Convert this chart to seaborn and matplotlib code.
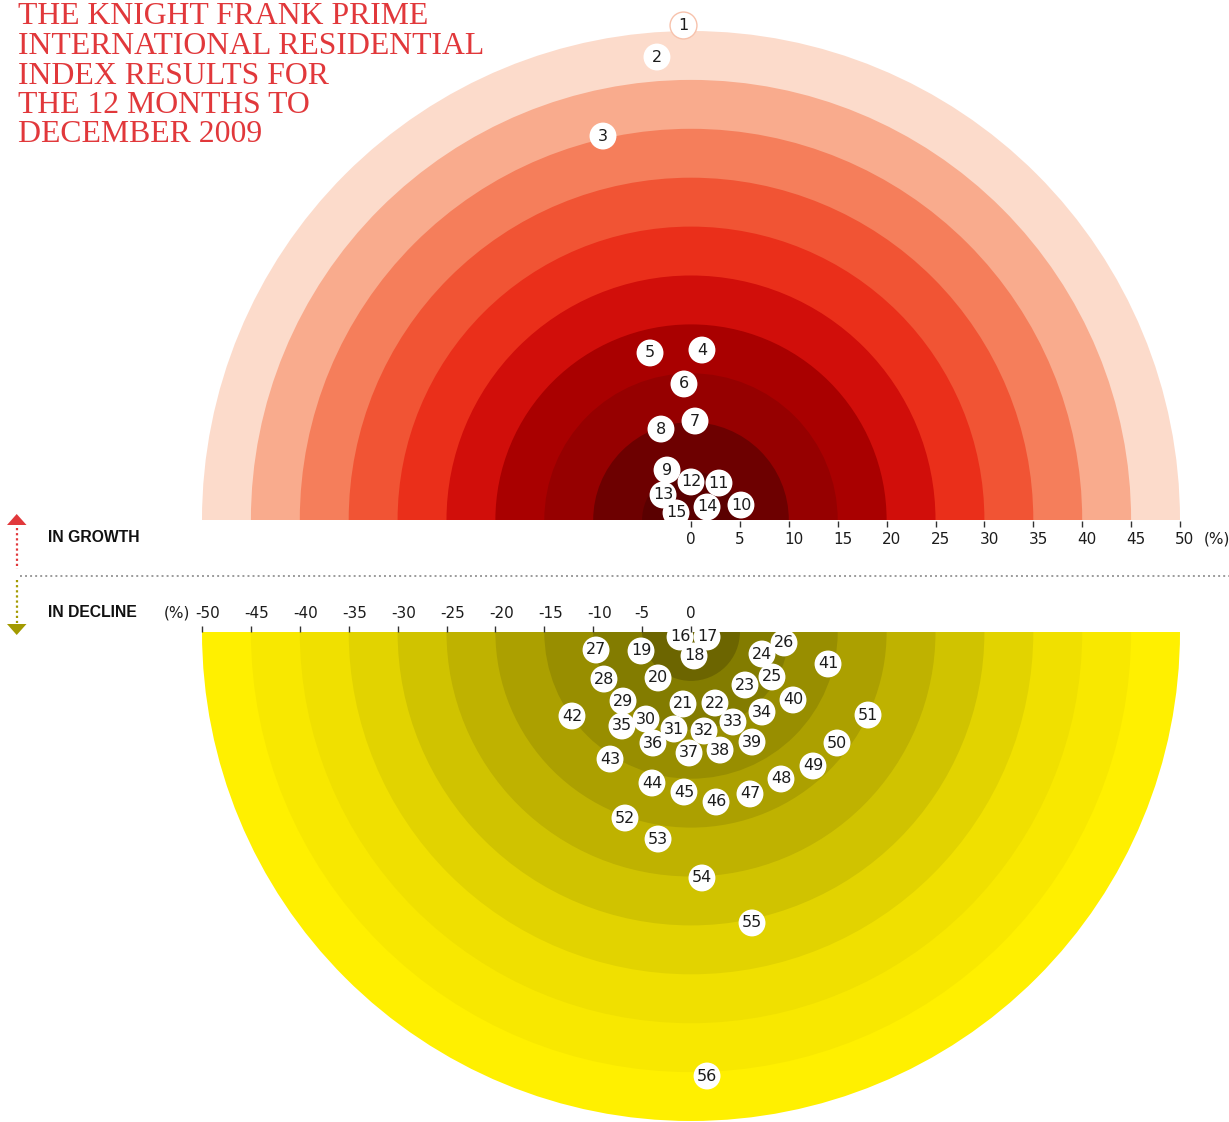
import numpy as np
import pandas as pd
import matplotlib
matplotlib.use("Agg")
import matplotlib.pyplot as plt
from matplotlib.patches import Wedge, Polygon
import seaborn as sns

# ---------------- data ----------------
title_lines = ["THE KNIGHT FRANK PRIME", "INTERNATIONAL RESIDENTIAL",
               "INDEX RESULTS FOR", "THE 12 MONTHS TO", "DECEMBER 2009"]

ring_radii = [50, 45, 40, 35, 30, 25, 20, 15, 10, 5]
growth_colors = ['#FCDBCB', '#F9AB8D', '#F57E5B', '#F15434', '#EA2F1A',
                 '#D10E0A', '#A90000', '#960000', '#6D0000', '#5A0000']
decline_colors = ['#FFF000', '#F8E800', '#F0E000', '#E2D300', '#D0C300',
                  '#BFB200', '#ACA000', '#988E00', '#837C00', '#6C6500']

growth_ticks = [0, 5, 10, 15, 20, 25, 30, 35, 40, 45, 50]
decline_ticks = [-50, -45, -40, -35, -30, -25, -20, -15, -10, -5, 0]

growth_ids = list(range(1, 16))
growth_x = [-0.82, -3.48, -9.00, 1.12, -4.19, -0.72, 0.41, -3.07, -2.45, 5.11,
            2.86, 0.00, -2.86, 1.64, -1.53]
growth_y = [50.61, 47.34, 39.26, 17.38, 17.08, 13.91, 10.12, 9.30, 5.11, 1.53,
            3.78, 3.89, 2.56, 1.33, 0.72]

decline_ids = list(range(16, 57))
decline_x = [-1.12, 1.64, 0.31, -5.11, -3.37, -0.82, 2.45, 5.52, 7.26, 8.28,
             9.51, -9.71, -8.90, -6.95, -4.60, -1.74, 1.33, 4.29, 7.26, -7.06,
             -3.89, -0.20, 2.97, 6.24, 10.43, 14.01, -12.17, -8.28, -3.99, -0.72,
             2.56, 6.03, 9.20, 12.47, 14.93, 18.10, -6.75, -3.37, 1.12, 6.24,
             1.64]
decline_depth = [0.51, 0.51, 2.45, 1.94, 4.70, 7.36, 7.26, 5.42, 2.25, 4.60,
                 1.12, 1.84, 4.81, 7.06, 8.90, 9.92, 10.12, 9.20, 8.18, 9.61,
                 11.35, 12.37, 12.07, 11.25, 6.95, 3.27, 8.59, 12.99, 15.44, 16.36,
                 17.38, 16.56, 15.03, 13.70, 11.35, 8.49, 19.02, 21.17, 25.15, 29.75,
                 45.40]

# ---------------- layout helpers ----------------
PX = 9.78            # pixels per percentage point
CX, CY = 691, 520    # pixel position of the growth origin
GAP = (632 - 520) / PX
RED = '#E1383B'
OLIVE = '#A39A00'

def P(px, py):
    return (px - CX) / PX, (CY - py) / PX

sns.set_style("white")
plt.rcParams['font.family'] = ['DejaVu Sans']

fig = plt.figure(figsize=(12.29, 11.22), dpi=100)
ax = fig.add_axes([0, 0, 1, 1])

# rings
for r, c in zip(ring_radii, growth_colors):
    ax.add_patch(Wedge((0, 0), r, 0, 180, facecolor=c, edgecolor='none', zorder=1))
for r, c in zip(ring_radii, decline_colors):
    ax.add_patch(Wedge((0, -GAP), r, 180, 360, facecolor=c, edgecolor='none', zorder=1))

# points
up = pd.DataFrame({'id': growth_ids, 'x': growth_x, 'y': growth_y})
down = pd.DataFrame({'id': decline_ids, 'x': decline_x,
                     'y': [-GAP - d for d in decline_depth]})
pts = pd.concat([up, down], ignore_index=True)
sns.scatterplot(data=pts, x='x', y='y', s=375, color='white', edgecolor='none',
                linewidth=0, ax=ax, zorder=4, legend=False)
sns.scatterplot(data=up[up['id'] == 1], x='x', y='y', s=375, color='white',
                edgecolor='#F7C2AC', linewidth=1.0, ax=ax, zorder=4, legend=False)
for _, row in pts.iterrows():
    ax.text(row['x'], row['y'], str(int(row['id'])), ha='center', va='center',
            fontsize=11.5, color='#1c1c1c', zorder=6)

# growth axis
ax.vlines(growth_ticks, P(0, 521)[1], P(0, 526.5)[1], color='#333333', lw=1, zorder=7)
for t in growth_ticks:
    off = 5 / PX if abs(t) >= 10 else 0
    ax.text(t + off, P(0, 539.5)[1], str(t), ha='center', va='center',
            fontsize=11, color='#1c1c1c')
ax.text(*P(1217, 539.5), '(%)', ha='center', va='center', fontsize=11, color='#1c1c1c')

# decline axis
ax.vlines(decline_ticks, P(0, 626)[1], P(0, 632)[1], color='#333333', lw=1, zorder=7)
for t in decline_ticks:
    off = 6 / PX if abs(t) >= 10 else 0
    ax.text(t + off, P(0, 613)[1], str(t), ha='center', va='center',
            fontsize=11, color='#1c1c1c')
ax.text(*P(177, 613), '(%)', ha='center', va='center', fontsize=11, color='#1c1c1c')

# side labels
ax.text(*P(48, 537.5), 'IN GROWTH', ha='left', va='center', fontsize=11.3,
        fontweight='bold', family='Liberation Sans', color='#111111')
ax.text(*P(48, 612.5), 'IN DECLINE', ha='left', va='center', fontsize=11.3,
        fontweight='bold', family='Liberation Sans', color='#111111')

# separator and arrows
sx0, sy = P(20, 576)
sx1, _ = P(1229, 576)
ax.plot([sx0, sx1], [sy, sy], color='#9B9B9B', lw=1.4, ls=(0, (1, 1.6)), zorder=2)
ax.plot([P(16.7, 0)[0]] * 2, [P(0, 528)[1], P(0, 569)[1]], color=RED, lw=1.6,
        ls=(0, (1, 1.3)))
ax.plot([P(16.7, 0)[0]] * 2, [P(0, 580)[1], P(0, 623)[1]], color=OLIVE, lw=1.6,
        ls=(0, (1, 1.3)))
ax.add_patch(Polygon([P(7, 525), P(26.5, 525), P(16.7, 514)], closed=True,
                     facecolor=RED, edgecolor='none'))
ax.add_patch(Polygon([P(7, 624), P(26.5, 624), P(16.7, 635)], closed=True,
                     facecolor=OLIVE, edgecolor='none'))

# title
for line, base in zip(title_lines, [24, 54, 84, 113, 142]):
    ax.text(*P(18, base), line, ha='left', va='baseline', fontsize=22.9,
            family='Liberation Serif', color=RED)

x0, y0 = P(0, 1122)
x1, y1 = P(1229, 0)
ax.set_xlim(x0, x1)
ax.set_ylim(y0, y1)
ax.set_axis_off()

fig.savefig('out.png', dpi=100)
